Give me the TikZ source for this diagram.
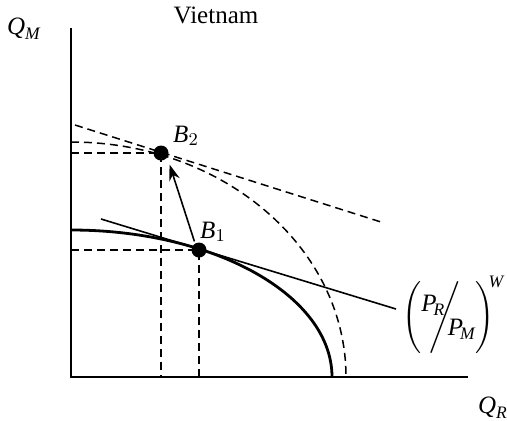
\documentclass[tikz,border=0pt]{standalone}
\usepackage{amsmath}
\usepackage{fontspec}
\setmainfont{Liberation Serif}
\usetikzlibrary{arrows.meta}

\begin{document}
\begin{tikzpicture}[
  x=0.5pt, y=0.5pt,
  font=\fontsize{12.5}{14}\selectfont,
  dot/.style={circle, fill, inner sep=0pt, minimum size=7.5pt},
  guide/.style={dash pattern=on 4pt off 2.5pt, line width=0.75pt},
  ppf/.style={line width=1.4pt},
  every node/.style={inner sep=1pt}
  ]
  \useasboundingbox (0,0) rectangle (507,420);

  % Axes
  \coordinate (O) at (71,43);
  \coordinate (ytop) at (71,392);
  \coordinate (xend) at (468,43);
  \draw[line width=1pt] (ytop) -- (O) -- (xend);

  \node (qm) at (24,391) {$\textit{Q}_{\textit{M}}$};
  \node (qr) at (493,12) {$\textit{Q}_{\textit{R}}$};
  \node (title) at (216,405) {Vietnam};

  % Points
  \node[dot] (b1) at (199,170) {};
  \node[dot] (b2) at (161,267) {};
  \node (b1lab) at (213,188) {$\textit{B}_{1}$};
  \node (b2lab) at (186,284) {$\textit{B}_{2}$};

  % Production possibility frontiers
  \coordinate (ppf1) at (71,190);
  \coordinate (ppf2) at (71,278);
  \draw[ppf] (ppf1) arc[start angle=90, end angle=0, x radius=261, y radius=147];
  \draw[guide] (ppf2) arc[start angle=90, end angle=0, x radius=275, y radius=235];

  % Price lines
  \coordinate (p1a) at (101,201);
  \coordinate (p1b) at (396,111);
  \draw[line width=0.8pt] (p1a) -- (p1b);
  \coordinate (p2a) at (75,295);
  \coordinate (p2b) at (381,198);
  \draw[guide] (p2a) -- (p2b);

  \node[anchor=west, inner sep=0pt] (price) at (402,105)
    {$\left(\rule[-13pt]{0pt}{27pt}\raisebox{6pt}{$\textit{P}_{\!\textit{R}}$}\!\!\!\!\Bigg/\!\!\!\raisebox{-6pt}{$\textit{P}_{\!\textit{M}}$}\right)^{\!\!\textit{W}}$};

  % Guide lines to the axes
  \coordinate (b1y) at (71,170);
  \coordinate (b1x) at (199,43);
  \coordinate (b2y) at (71,267);
  \coordinate (b2x) at (161,43);
  \draw[guide] (b1y) -- (b1.center) -- (b1x);
  \draw[guide] (b2y) -- (b2.center) -- (b2x);

  % Movement from B1 to B2
  \draw[line width=0.8pt, -{Stealth[length=8pt, width=5.5pt]}] (b1.north west) ++(1,3) -- ([shift={(3,-6)}]b2.south east);

\end{tikzpicture}
\end{document}
